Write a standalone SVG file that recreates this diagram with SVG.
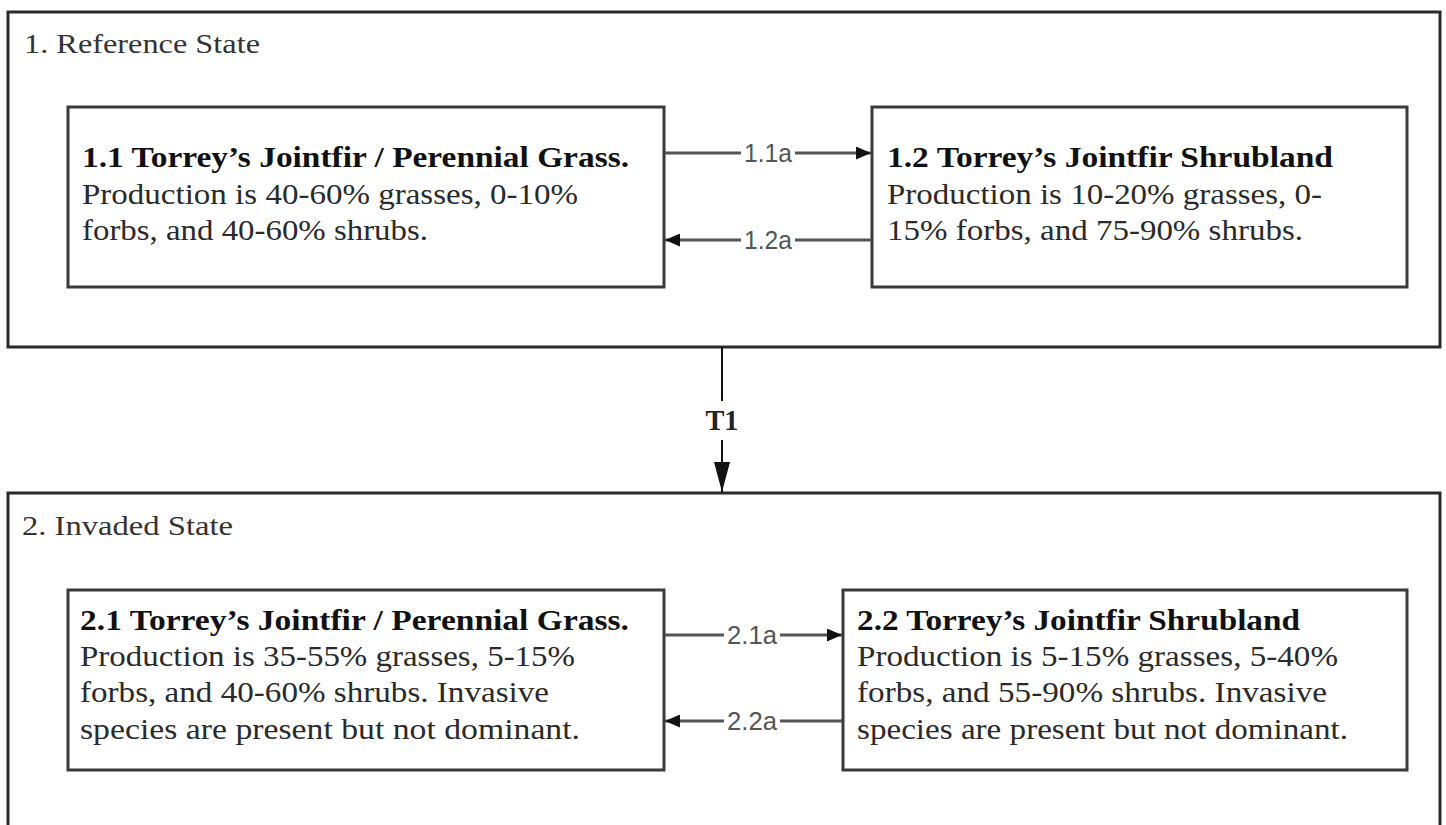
<svg xmlns="http://www.w3.org/2000/svg" width="1446" height="825" viewBox="0 0 1446 825">
<style>
.state{fill:#fff;stroke:#2a2a2a;stroke-width:3}
.box{fill:#fff;stroke:#3a3a3a;stroke-width:3}
.st{font-family:"Liberation Serif","Times New Roman",serif;font-size:28px;fill:#333}
.tt{font-family:"Liberation Serif","Times New Roman",serif;font-size:29px;font-weight:bold;fill:#111}
.bd{font-family:"Liberation Serif","Times New Roman",serif;font-size:29px;fill:#2a2a2a}
.cl{font-family:"Liberation Sans",Arial,sans-serif;font-size:25px;fill:#555;text-anchor:middle}
.ln{stroke:#555;stroke-width:3;fill:none}
.t1{font-family:"Liberation Serif","Times New Roman",serif;font-size:30px;font-weight:bold;fill:#222;text-anchor:middle}
</style>
<defs>
<marker id="ah" markerWidth="15" markerHeight="13" refX="15" refY="6.5" orient="auto" markerUnits="userSpaceOnUse" viewBox="0 0 15 13">
<path d="M0,0 L15,6.5 L0,13 z" fill="#111"/>
</marker>
<marker id="ah2" markerWidth="30" markerHeight="16" refX="30" refY="8" orient="auto" markerUnits="userSpaceOnUse" viewBox="0 0 30 16">
<path d="M0,0 L30,8 L0,16 z" fill="#111"/>
</marker>
</defs>
<rect width="1446" height="825" fill="#fff"/>
<g id="state1">
<rect class="state" x="8" y="12" width="1432" height="335"/>
<text class="st" x="24" y="53" textLength="236" lengthAdjust="spacingAndGlyphs">1. Reference State</text>
</g>
<g id="state2">
<rect class="state" x="8" y="493" width="1432" height="340"/>
<text class="st" x="22" y="535" textLength="211" lengthAdjust="spacingAndGlyphs">2. Invaded State</text>
</g>
<g id="n11">
<rect class="box" x="68" y="107" width="596" height="180"/>
<text class="tt" x="82" y="167" textLength="547" lengthAdjust="spacingAndGlyphs">1.1 Torrey’s Jointfir / Perennial Grass.</text>
<text class="bd" x="82" y="204" textLength="496" lengthAdjust="spacingAndGlyphs">Production is 40-60% grasses, 0-10%</text>
<text class="bd" x="82" y="240" textLength="346" lengthAdjust="spacingAndGlyphs">forbs, and 40-60% shrubs.</text>
</g>
<g id="n12">
<rect class="box" x="872" y="107" width="535" height="180"/>
<text class="tt" x="887" y="167" textLength="446" lengthAdjust="spacingAndGlyphs">1.2 Torrey’s Jointfir Shrubland</text>
<text class="bd" x="887" y="204" textLength="435" lengthAdjust="spacingAndGlyphs">Production is 10-20% grasses, 0-</text>
<text class="bd" x="887" y="240" textLength="416" lengthAdjust="spacingAndGlyphs">15% forbs, and 75-90% shrubs.</text>
</g>
<g id="n21">
<rect class="box" x="68" y="590" width="596" height="180"/>
<text class="tt" x="80" y="630" textLength="549" lengthAdjust="spacingAndGlyphs">2.1 Torrey’s Jointfir / Perennial Grass.</text>
<text class="bd" x="80" y="666" textLength="495" lengthAdjust="spacingAndGlyphs">Production is 35-55% grasses, 5-15%</text>
<text class="bd" x="80" y="702" textLength="469" lengthAdjust="spacingAndGlyphs">forbs, and 40-60% shrubs. Invasive</text>
<text class="bd" x="80" y="739" textLength="500" lengthAdjust="spacingAndGlyphs">species are present but not dominant.</text>
</g>
<g id="n22">
<rect class="box" x="843" y="590" width="564" height="180"/>
<text class="tt" x="857" y="630" textLength="443" lengthAdjust="spacingAndGlyphs">2.2 Torrey’s Jointfir Shrubland</text>
<text class="bd" x="857" y="666" textLength="481" lengthAdjust="spacingAndGlyphs">Production is 5-15% grasses, 5-40%</text>
<text class="bd" x="857" y="702" textLength="470" lengthAdjust="spacingAndGlyphs">forbs, and 55-90% shrubs. Invasive</text>
<text class="bd" x="857" y="739" textLength="491" lengthAdjust="spacingAndGlyphs">species are present but not dominant.</text>
</g>
<g id="connectors">
<line class="ln" x1="665" y1="153" x2="741" y2="153"/>
<line class="ln" x1="795" y1="153" x2="871" y2="153" marker-end="url(#ah)"/>
<text class="cl" x="768" y="162" textLength="48" lengthAdjust="spacingAndGlyphs">1.1a</text>
<line class="ln" x1="871" y1="240" x2="795" y2="240"/>
<line class="ln" x1="741" y1="240" x2="665" y2="240" marker-end="url(#ah)"/>
<text class="cl" x="768" y="249" textLength="48" lengthAdjust="spacingAndGlyphs">1.2a</text>
<line class="ln" x1="665" y1="635" x2="724" y2="635"/>
<line class="ln" x1="780" y1="635" x2="842" y2="635" marker-end="url(#ah)"/>
<text class="cl" x="752" y="644" textLength="50" lengthAdjust="spacingAndGlyphs">2.1a</text>
<line class="ln" x1="842" y1="721" x2="780" y2="721"/>
<line class="ln" x1="724" y1="721" x2="665" y2="721" marker-end="url(#ah)"/>
<text class="cl" x="752" y="730" textLength="50" lengthAdjust="spacingAndGlyphs">2.2a</text>
<line x1="722" y1="347" x2="722" y2="401" stroke="#111" stroke-width="2"/>
<line x1="722" y1="440" x2="722" y2="492" stroke="#111" stroke-width="2" marker-end="url(#ah2)"/>
<text class="t1" x="722" y="430" textLength="33" lengthAdjust="spacingAndGlyphs">T1</text>
</g>
</svg>
